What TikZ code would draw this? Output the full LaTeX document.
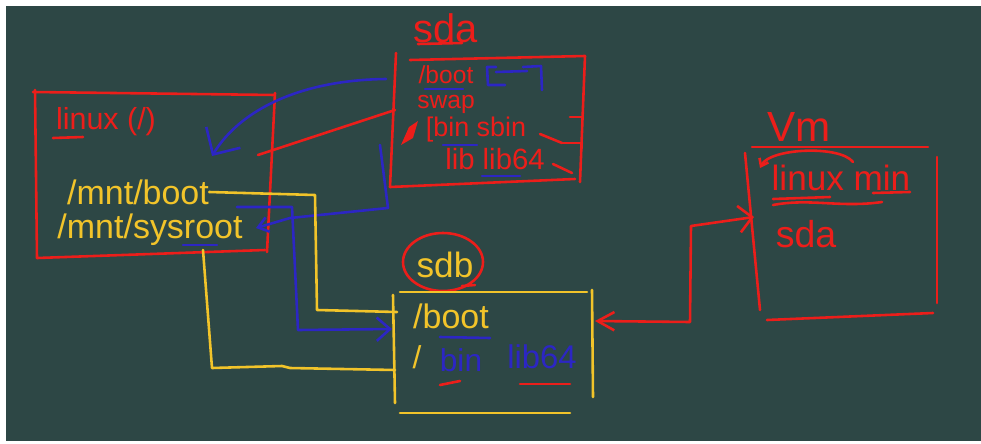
\documentclass[tikz,border=0pt]{standalone}
\usepackage{fontspec}
\setmainfont{Liberation Sans}
\usetikzlibrary{arrows.meta}
\definecolor{board}{RGB}{45,71,69}
\definecolor{chalkred}{RGB}{236,30,26}
\definecolor{chalkyellow}{RGB}{242,196,42}
\definecolor{chalkblue}{RGB}{44,38,196}
\newcommand{\chalksize}[1]{\fontsize{#1}{#1}\selectfont}
\tikzset{
  redline/.style={draw=chalkred,line width=2.2pt,line cap=round,line join=round},
  yellowline/.style={draw=chalkyellow,line width=2.2pt,line cap=round,line join=round},
  blueline/.style={draw=chalkblue,line width=2.2pt,line cap=round,line join=round},
  redtext/.style={text=chalkred,inner sep=0pt},
  yellowtext/.style={text=chalkyellow,inner sep=0pt},
  bluetext/.style={text=chalkblue,inner sep=0pt}
}

\begin{document}
\begin{tikzpicture}[x=0.03cm,y=-0.03cm]
	%%%%% BOARD %%%%%
	\useasboundingbox (0,0) rectangle (981,443);
	\fill[white] (0,0) rectangle (981,443);
	\fill[board] (6,6) rectangle (981,441);
	
	%%%%% linux box %%%%%
	\draw[redline] (33,92) -- (275,95);
	\draw[redline] (35,90) -- (37,258);
	\draw[redline] (37,258) -- (265,250);
	\draw[redline] (275,93) -- (267,252);
	\node[redtext,font=\chalksize{26}] (linux) at (106,122) {linux (/)};
	\draw[redline] (53,138) -- (83,137);
	\node[yellowtext,font=\chalksize{29}] (mntboot) at (138,192) {/mnt/boot};
	\node[yellowtext,font=\chalksize{29}] (mntroot) at (150,230) {/mnt/sysroot};
	\draw[blueline] (183,245) -- (217,245);
	
	%%%%% sda %%%%%
	\node[redtext,font=\chalksize{34}] (sdaname) at (446,28) {sda};
	\draw[redline] (418,44) -- (462,43);
	\draw[redline] (410,60) -- (585,56);
	\draw[redline] (396,53) -- (390,187);
	\draw[redline] (390,187) -- (575,179);
	\draw[redline] (585,56) -- (580,182);
	\node[redtext,font=\chalksize{21}] (sdaboot) at (446,75) {/boot};
	\draw[blueline] (425,89) -- (463,89);
	\draw[blueline] (496,67) -- (487,67) -- (488,85) -- (505,85);
	\draw[blueline] (496,72) -- (527,71);
	\draw[blueline] (523,67) -- (541,66) -- (542,90);
	\node[redtext,font=\chalksize{21}] (swap) at (446,104) {swap};
	\fill[chalkred] (401,145) -- (409,127) -- (418,121) -- (413,138) -- cycle;
	\node[redtext,font=\chalksize{23}] (binsbin) at (476,130) {[bin sbin};
	\draw[blueline] (443,145) -- (477,145);
	\draw[redline] (540,134) -- (562,143);
	\draw[redline] (570,117) -- (582,117) -- (582,148);
	\draw[redline] (562,143) -- (582,143);
	\node[redtext,font=\chalksize{25}] (sdalib) at (495,159) {lib lib64};
	\draw[blueline] (482,176) -- (520,176);
	\draw[redline] (553,164) -- (572,173);
	
	%%%%% sdb %%%%%
	\node[yellowtext,font=\chalksize{30}] (sdbname) at (445,265) {sdb};
	\draw[redline] (443,262) ellipse [x radius=40,y radius=29];
	\draw[redline] (462,286) -- (475,285);
	\draw[yellowline] (400,292) -- (587,292);
	\draw[yellowline] (393,295) -- (395,403);
	\draw[yellowline] (592,290) -- (593,397);
	\draw[yellowline] (400,413) -- (570,413);
	\node[yellowtext,font=\chalksize{29}] (sdbboot) at (451,316) {/boot};
	\draw[blueline] (440,337) -- (490,338);
	\node[yellowtext,font=\chalksize{27}] (sdbslash) at (417,357) {/};
	\node[bluetext,font=\chalksize{27}] (sdbbin) at (461,360) {bin};
	\node[bluetext,font=\chalksize{28}] (sdblib) at (542,357) {lib64};
	\draw[redline] (440,385) -- (460,381);
	\draw[redline] (520,384) -- (570,384);
	
	%%%%% vm %%%%%
	\node[redtext,font=\chalksize{36}] (vmname) at (799,127) {Vm};
	\draw[redline] (752,147) -- (928,147);
	\draw[redline] (745,153) -- (760,310);
	\draw[redline] (937,157) -- (937,303);
	\draw[redline] (767,320) -- (933,313);
	\node[redtext,font=\chalksize{30}] (vmlinux) at (841,178) {linux min};
	\draw[redline,-{Straight Barb[length=0.2cm,width=0.3cm]}] (853,162) .. controls (840,145) and (770,148) .. (760,168);
	\draw[redline] (773,199) -- (830,197);
	\draw[redline] (773,205) .. controls (810,198) and (840,208) .. (882,202);
	\draw[redline] (873,193) -- (910,192);
	\node[redtext,font=\chalksize{32}] (vmsda) at (806,234) {sda};
	
	%%%%% connectors %%%%%
	\coordinate (sdaout) at (386,79);
	\coordinate (rootin) at (212,156);
	\coordinate (swapout) at (395,110);
	\coordinate (swapend) at (258,155);
	\coordinate (binout) at (380,145);
	\coordinate (rootend) at (256,228);
	\coordinate (bluestart) at (237,207);
	\coordinate (sdbin1) at (397,312);
	\coordinate (sdbin2) at (392,329);
	\coordinate (sdbin3) at (395,370);
	\coordinate (sdbR) at (595,321);
	\coordinate (vmL) at (754,217);
	
	\draw[blueline,-{Straight Barb[length=0.6cm,width=1.2cm]}] (sdaout) .. controls (300,80) and (240,110) .. (rootin);
	\draw[redline] (swapout) -- (swapend);
	\draw[blueline,-{Straight Barb[length=0.3cm,width=0.45cm]}] (binout) -- (388,208) -- (290,218) -- (rootend);
	\draw[yellowline] (mntboot.east) -- (315,195) -- (317,310) -- (sdbin1);
	\draw[blueline,-{Straight Barb[length=0.4cm,width=0.7cm]}] (bluestart) -- (292,207) -- (298,330) -- (sdbin2);
	\draw[yellowline] (203,250) -- (212,368) -- (282,366) -- (290,368) -- (sdbin3);
	\draw[redline,{Straight Barb[length=0.5cm,width=0.55cm]}-{Straight Barb[length=0.4cm,width=0.8cm]}] (sdbR) -- (690,322) -- (691,226) -- (vmL);
	
	%%%%% END %%%%%
\end{tikzpicture}
\end{document}
